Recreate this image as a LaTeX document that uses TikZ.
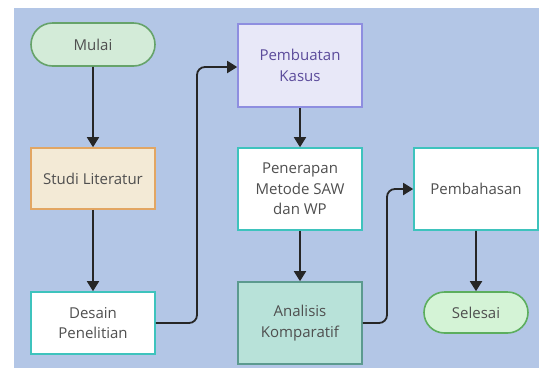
\documentclass[tikz,border=0pt]{standalone}
\usepackage{fontspec}
\setmainfont{Open Sans}
\usetikzlibrary{arrows.meta,shapes.misc}
\definecolor{bgc}{HTML}{B3C6E6}
\definecolor{txt}{HTML}{4F4F4F}
\definecolor{grnF}{HTML}{D3EBD8}
\definecolor{grnD}{HTML}{66A36A}
\definecolor{orF}{HTML}{F3EAD6}
\definecolor{orD}{HTML}{E2A663}
\definecolor{tealD}{HTML}{3EC3BD}
\definecolor{purF}{HTML}{E8E8F8}
\definecolor{purD}{HTML}{8E8EE0}
\definecolor{purT}{HTML}{5B4B9B}
\definecolor{anF}{HTML}{B8E2D9}
\definecolor{anD}{HTML}{5C9A8F}
\definecolor{selF}{HTML}{D4F3D6}
\definecolor{selD}{HTML}{5CAE5E}
\tikzset{
  base/.style={draw, line width=1.6pt, text=txt, font=\fontsize{15}{20.5}\selectfont, align=center, inner sep=0pt},
  term/.style={base, rounded rectangle, minimum width=124pt, minimum height=43pt},
  box/.style={base, rectangle, minimum width=124pt},
  arr/.style={-{Triangle[length=10pt,width=12pt]}, line width=1.8pt, black!85},
  lnk/.style={arr, rounded corners=8pt}
}
\begin{document}
\begin{tikzpicture}[x=1pt,y=-1pt]
\useasboundingbox (0,0) rectangle (539,368);
\fill[bgc] (14,8) rectangle (539,368);
\node[term, fill=grnF, draw=grnD] (mulai) at (93,44.5) {Mulai};
\node[box, fill=orF, draw=orD, minimum height=61pt] (studi) at (93,178.5) {Studi Literatur};
\node[box, fill=white, draw=tealD, minimum height=62pt] (desain) at (93,323) {Desain\\Penelitian};
\node[box, fill=purF, draw=purD, minimum height=83pt, text=purT] (kasus) at (300,65.5) {Pembuatan\\Kasus};
\node[box, fill=white, draw=tealD, minimum height=82pt] (terap) at (300,189) {Penerapan\\Metode SAW\\dan WP};
\node[box, fill=anF, draw=anD, minimum height=82pt] (anal) at (300,323) {Analisis\\Komparatif};
\node[box, fill=white, draw=tealD, minimum height=82pt] (bahas) at (476,189) {Pembahasan};
\node[term, fill=selF, draw=selD, minimum width=104pt, minimum height=41pt] (selesai) at (476,312.5) {Selesai};
\coordinate (c1) at (197,323);
\coordinate (c2) at (387,323);
\draw[arr] (mulai) -- (studi);
\draw[arr] (studi) -- (desain);
\draw[lnk] (desain.east) -- (197,323) -- (197,67) -- (kasus.west |- 0,67);
\draw[arr] (kasus) -- (terap);
\draw[arr] (terap) -- (anal);
\draw[lnk] (anal.east) -- (387,323) -- (387,189) -- (bahas.west);
\draw[arr] (bahas) -- (selesai);
\end{tikzpicture}
\end{document}
